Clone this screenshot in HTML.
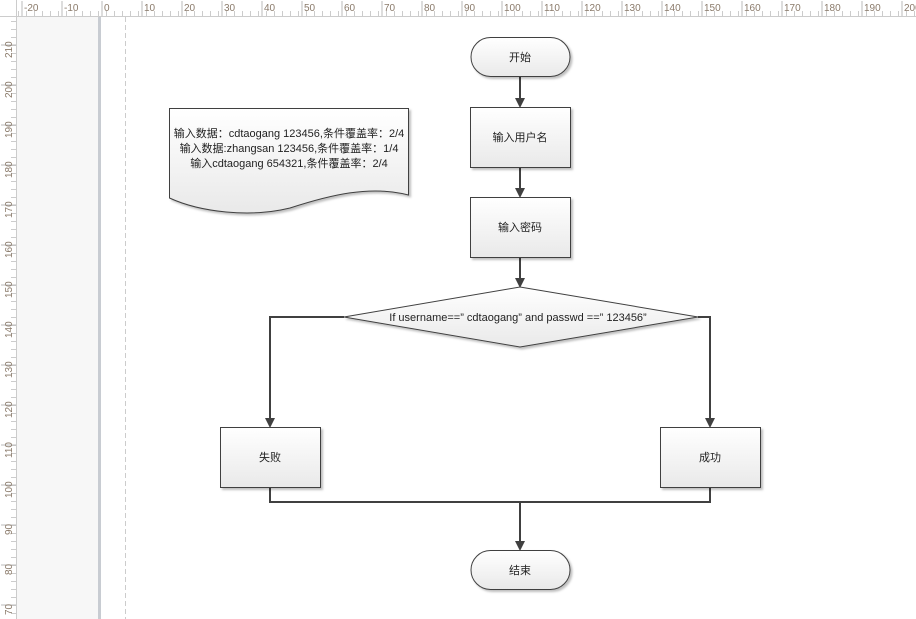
<!DOCTYPE html>
<html><head><meta charset="utf-8"><style>
html,body{margin:0;padding:0;width:916px;height:619px;overflow:hidden;background:#fff}
text{font-family:"Liberation Sans","Noto Sans CJK SC",sans-serif;font-size:11px;fill:#222}
.r{font-size:10px;fill:#8a7a6a}
</style></head><body>
<svg width="916" height="619" xmlns="http://www.w3.org/2000/svg">
<defs>
<linearGradient id="g" x1="0" y1="0" x2="0" y2="1"><stop offset="0" stop-color="#ffffff"/><stop offset="1" stop-color="#e9e9e9"/></linearGradient>
<marker id="a" markerWidth="10" markerHeight="10" refX="8" refY="5" orient="auto" markerUnits="userSpaceOnUse"><path d="M0,0 L10,5 L0,10 z" fill="#404040"/></marker>
<filter id="s" x="-10%" y="-10%" width="130%" height="130%"><feDropShadow dx="2" dy="2" stdDeviation="1" flood-color="#000" flood-opacity="0.25"/></filter>
<pattern id="th" x="2" y="0" width="8" height="17" patternUnits="userSpaceOnUse"><line x1="0.5" y1="11" x2="0.5" y2="16" stroke="#ccc"/></pattern>
<pattern id="tv" x="0" y="5" width="17" height="8" patternUnits="userSpaceOnUse"><line x1="11" y1="0.5" x2="16" y2="0.5" stroke="#ccc"/></pattern>
</defs>
<rect x="0" y="0" width="916" height="619" fill="#f7f7f7"/>
<rect x="101" y="17" width="815" height="602" fill="#fff"/>
<rect x="98" y="17" width="3" height="602" fill="#c8ccd2"/>
<line x1="125.5" y1="17" x2="125.5" y2="619" stroke="#ccc" stroke-dasharray="5,3"/>
<rect x="0" y="0" width="916" height="17" fill="#fff"/>
<rect x="0" y="0" width="17" height="619" fill="#fff"/>
<rect x="17" y="0" width="899" height="17" fill="url(#th)"/>
<rect x="0" y="17" width="17" height="602" fill="url(#tv)"/>
<line x1="0" y1="16.5" x2="916" y2="16.5" stroke="#ccc"/>
<line x1="16.5" y1="0" x2="16.5" y2="619" stroke="#ccc"/>
<g stroke="#bbb">
<path d="M22,1V16 M62,1V16 M102,1V16 M142,1V16 M182,1V16 M222,1V16 M262,1V16 M302,1V16 M342,1V16 M382,1V16 M422,1V16 M462,1V16 M502,1V16 M542,1V16 M582,1V16 M622,1V16 M662,1V16 M702,1V16 M742,1V16 M782,1V16 M822,1V16 M862,1V16 M902,1V16"/>
<path d="M1,45H16 M1,85H16 M1,125H16 M1,165H16 M1,205H16 M1,245H16 M1,285H16 M1,325H16 M1,365H16 M1,405H16 M1,445H16 M1,485H16 M1,525H16 M1,565H16 M1,605H16"/>
</g>
<g>
<text class="r" x="24" y="11">-20</text><text class="r" x="64" y="11">-10</text><text class="r" x="104" y="11">0</text><text class="r" x="144" y="11">10</text><text class="r" x="184" y="11">20</text><text class="r" x="224" y="11">30</text><text class="r" x="264" y="11">40</text><text class="r" x="304" y="11">50</text><text class="r" x="344" y="11">60</text><text class="r" x="384" y="11">70</text><text class="r" x="424" y="11">80</text><text class="r" x="464" y="11">90</text><text class="r" x="504" y="11">100</text><text class="r" x="544" y="11">110</text><text class="r" x="584" y="11">120</text><text class="r" x="624" y="11">130</text><text class="r" x="664" y="11">140</text><text class="r" x="704" y="11">150</text><text class="r" x="744" y="11">160</text><text class="r" x="784" y="11">170</text><text class="r" x="824" y="11">180</text><text class="r" x="864" y="11">190</text><text class="r" x="904" y="11">200</text>
</g>
<g>
<text class="r" transform="translate(12,58) rotate(-90)">210</text><text class="r" transform="translate(12,98) rotate(-90)">200</text><text class="r" transform="translate(12,138) rotate(-90)">190</text><text class="r" transform="translate(12,178) rotate(-90)">180</text><text class="r" transform="translate(12,218) rotate(-90)">170</text><text class="r" transform="translate(12,258) rotate(-90)">160</text><text class="r" transform="translate(12,298) rotate(-90)">150</text><text class="r" transform="translate(12,338) rotate(-90)">140</text><text class="r" transform="translate(12,378) rotate(-90)">130</text><text class="r" transform="translate(12,418) rotate(-90)">120</text><text class="r" transform="translate(12,458) rotate(-90)">110</text><text class="r" transform="translate(12,498) rotate(-90)">100</text><text class="r" transform="translate(12,535) rotate(-90)">90</text><text class="r" transform="translate(12,575) rotate(-90)">80</text><text class="r" transform="translate(12,615) rotate(-90)">70</text>
</g>
<g stroke="#404040" stroke-width="2" fill="none">
<line x1="520" y1="77" x2="520" y2="106" marker-end="url(#a)"/>
<line x1="520" y1="168" x2="520" y2="196" marker-end="url(#a)"/>
<line x1="520" y1="258" x2="520" y2="286" marker-end="url(#a)"/>
<polyline points="344,317 270,317 270,426" marker-end="url(#a)"/>
<polyline points="698,317 710,317 710,426" marker-end="url(#a)"/>
<polyline points="270,487 270,502 710,502 710,487"/>
<line x1="520" y1="502" x2="520" y2="549" marker-end="url(#a)"/>
</g>
<g fill="url(#g)" stroke="#404040" stroke-width="1" filter="url(#s)">
<rect x="471" y="37.5" width="99" height="39" rx="19.5"/>
<rect x="470.5" y="107.5" width="100" height="60"/>
<rect x="470.5" y="197.5" width="100" height="60"/>
<polygon points="344,317 520,287 698,317 520,347"/>
<rect x="220.5" y="427.5" width="100" height="60"/>
<rect x="660.5" y="427.5" width="100" height="60"/>
<rect x="471" y="550.5" width="99" height="39" rx="19.5"/>
<path d="M169.5,108.5 H408.5 V195 C370,185 330,195 290,208 C250,218 200,212 169.5,198 Z"/>
</g>
<g text-anchor="middle">
<text x="520" y="61">开始</text>
<text x="520" y="141">输入用户名</text>
<text x="520" y="231">输入密码</text>
<text x="518" y="321">If username==” cdtaogang” and passwd ==” 123456”</text>
<text x="270" y="461">失败</text>
<text x="710" y="461">成功</text>
<text x="520" y="574">结束</text>
<text x="289" y="137">输入数据：cdtaogang 123456,条件覆盖率：2/4</text>
<text x="289" y="152">输入数据:zhangsan 123456,条件覆盖率：1/4</text>
<text x="289" y="167">输入cdtaogang 654321,条件覆盖率：2/4</text>
</g>
</svg>
</body></html>
